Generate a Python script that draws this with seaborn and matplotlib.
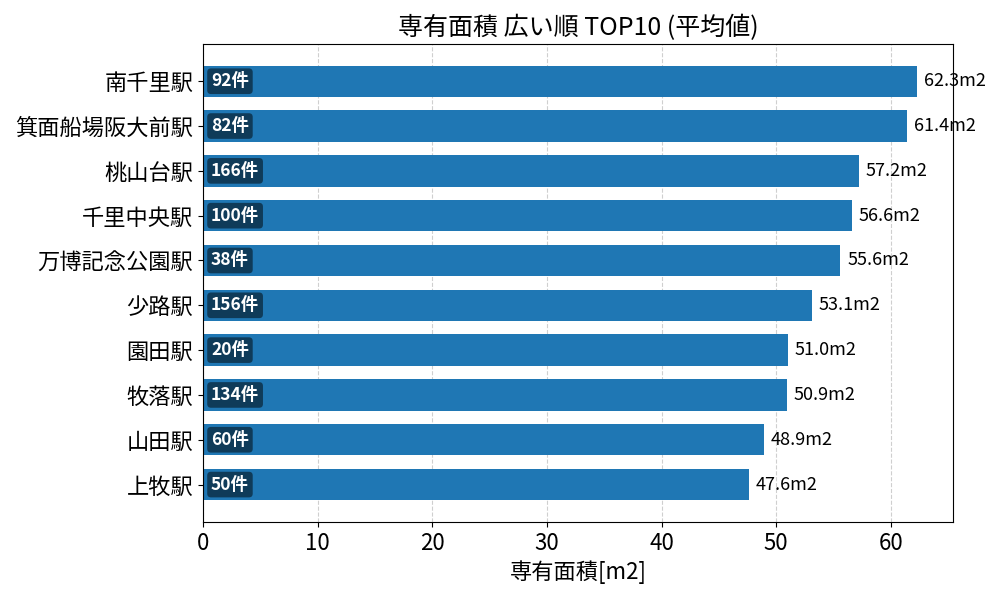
import matplotlib
matplotlib.use("Agg")
import matplotlib.pyplot as plt
import seaborn as sns
import pandas as pd

# 駅ごとの専有面積（平均値）と件数
stations = ["南千里駅", "箕面船場阪大前駅", "桃山台駅", "千里中央駅", "万博記念公園駅",
            "少路駅", "園田駅", "牧落駅", "山田駅", "上牧駅"]
area_avg = [62.3, 61.4, 57.2, 56.6, 55.6, 53.1, 51.0, 50.9, 48.9, 47.6]
counts = [92, 82, 166, 100, 38, 156, 20, 134, 60, 50]

plt.rcParams['font.family'] = ['Noto Sans CJK JP', 'DejaVu Sans']

df = pd.DataFrame({'station': stations, 'area': area_avg, 'count': counts})

fig, ax = plt.subplots(figsize=(10, 6), dpi=100)
sns.barplot(data=df, x='area', y='station', color='#1f77b4', saturation=1,
            width=0.7, ax=ax, zorder=2)

for i, (v, c) in enumerate(zip(area_avg, counts)):
    ax.text(v + 0.6, i, f"{v:.1f}m2", va='center', ha='left', fontsize=13, zorder=4)
    ax.text(0.7, i, f"{c}件", va='center', ha='left', fontsize=12.5, color='white',
            fontweight='bold', zorder=4,
            bbox=dict(boxstyle='round,pad=0.22', facecolor='black', alpha=0.5,
                      edgecolor='none'))

ax.set_xlim(0, max(area_avg) * 1.05)
n = len(stations)
ax.set_ylim(n - 1 + 0.35 + 0.485, -0.35 - 0.485)
ax.grid(axis='x', linestyle='--', alpha=0.6, zorder=0)
ax.set_axisbelow(True)
ax.set_title("専有面積 広い順 TOP10 (平均値)", fontsize=18)
ax.set_xlabel("専有面積[m2]", fontsize=16)
ax.set_ylabel("")
ax.tick_params(axis='both', labelsize=16)

plt.subplots_adjust(left=0.203, right=0.953, top=0.927, bottom=0.13)
plt.savefig("out.png")
